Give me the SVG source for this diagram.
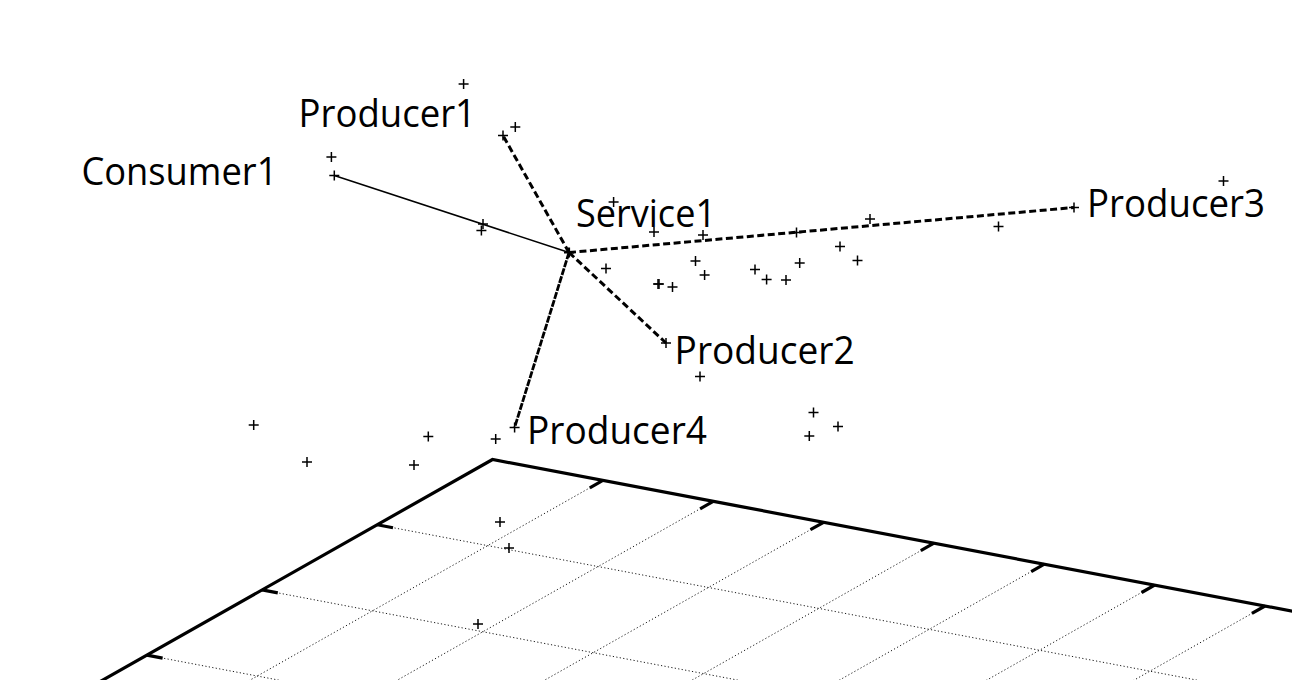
<svg xmlns="http://www.w3.org/2000/svg" width="1292" height="680" viewBox="0 0 1292 680">
<style>
.lbl{font-family:"Open Sans","Noto Sans","DejaVu Sans",sans-serif;font-size:39px;fill:#000}
.pt{stroke:#000;stroke-width:1.5;fill:none}
.grid{stroke:#000;stroke-width:0.9;stroke-dasharray:1.2 2.3;fill:none}
.edge{stroke:#000;stroke-width:3.2;fill:none;stroke-linecap:butt}
.tick{stroke:#000;stroke-width:3.2;fill:none}
.solid{stroke:#000;stroke-width:1.5;fill:none}
.dash{stroke:#000;stroke-width:3;stroke-dasharray:7 3.5;fill:none}
.dash4{stroke:#000;stroke-width:2.8;stroke-dasharray:7 1.3;fill:none}
</style>
<defs>
<path id="p" d="M-5 0H5M0 -5V5"/>
</defs>
<rect width="1292" height="680" fill="#fff"/>
<g id="base-grid">
<g class="grid">
<line x1="377.3" y1="524.7" x2="1260.2" y2="692.1"/>
<line x1="262.1" y1="589.9" x2="1145" y2="757.3"/>
<line x1="146.9" y1="655.1" x2="1029.8" y2="822.5"/>
<line x1="602.86" y1="480.43" x2="142.06" y2="741.23"/>
<line x1="713.22" y1="501.36" x2="252.42" y2="762.16"/>
<line x1="823.58" y1="522.29" x2="362.78" y2="783.09"/>
<line x1="933.94" y1="543.22" x2="473.14" y2="804.02"/>
<line x1="1044.3" y1="564.15" x2="583.5" y2="824.95"/>
<line x1="1154.66" y1="585.08" x2="693.86" y2="845.88"/>
<line x1="1265.02" y1="606.01" x2="804.22" y2="866.81"/>
</g>
<polyline class="edge" points="31.7,720.3 492.5,459.5 1375.4,626.9"/>
<g class="tick">
<line x1="377.3" y1="524.7" x2="393" y2="527.7"/>
<line x1="262.1" y1="589.9" x2="277.8" y2="592.9"/>
<line x1="146.9" y1="655.1" x2="162.6" y2="658.1"/>
<line x1="602.86" y1="480.43" x2="589.8" y2="487.8"/>
<line x1="713.22" y1="501.36" x2="700.1" y2="508.8"/>
<line x1="823.58" y1="522.29" x2="810.5" y2="529.7"/>
<line x1="933.94" y1="543.22" x2="920.8" y2="550.6"/>
<line x1="1044.3" y1="564.15" x2="1031.2" y2="571.6"/>
<line x1="1154.66" y1="585.08" x2="1141.6" y2="592.5"/>
<line x1="1265.02" y1="606.01" x2="1251.9" y2="613.4"/>
</g>
</g>
<g id="connectors">
<line class="solid" x1="334.3" y1="175.5" x2="569" y2="252.5"/>
<line class="dash" x1="569" y1="252.5" x2="503" y2="135.5"/>
<line class="dash" x1="569" y1="252.5" x2="1074" y2="207.5"/>
<line class="dash" x1="569" y1="252.5" x2="666" y2="343"/>
<line class="dash4" x1="569" y1="252.5" x2="514.6" y2="427.5"/>
</g>
<g id="points" class="pt">
<use href="#p" x="463.6" y="84"/>
<use href="#p" x="515.3" y="127"/>
<use href="#p" x="331.4" y="157"/>
<use href="#p" x="483" y="224"/>
<use href="#p" x="481.4" y="230.5"/>
<use href="#p" x="613.6" y="202"/>
<use href="#p" x="654" y="232"/>
<use href="#p" x="703" y="235"/>
<use href="#p" x="606" y="268.5"/>
<use href="#p" x="695.5" y="261"/>
<use href="#p" x="704.6" y="275"/>
<use href="#p" x="658" y="284"/>
<use href="#p" x="659" y="284"/>
<use href="#p" x="672.5" y="287"/>
<use href="#p" x="755" y="269.5"/>
<use href="#p" x="766.6" y="279.5"/>
<use href="#p" x="786" y="280"/>
<use href="#p" x="799.7" y="263"/>
<use href="#p" x="840" y="246.5"/>
<use href="#p" x="857.5" y="260.5"/>
<use href="#p" x="796.5" y="232.5"/>
<use href="#p" x="870" y="219"/>
<use href="#p" x="998.5" y="226.5"/>
<use href="#p" x="1223.5" y="181"/>
<use href="#p" x="700" y="376.5"/>
<use href="#p" x="813.5" y="412.5"/>
<use href="#p" x="838" y="426.5"/>
<use href="#p" x="809.3" y="436"/>
<use href="#p" x="253.7" y="425"/>
<use href="#p" x="428.3" y="436.5"/>
<use href="#p" x="495.7" y="439"/>
<use href="#p" x="307" y="462"/>
<use href="#p" x="414" y="465"/>
<use href="#p" x="500" y="522"/>
<use href="#p" x="509" y="548"/>
<use href="#p" x="478" y="624"/>
</g>
<g id="Consumer1">
<use class="pt" href="#p" x="334.3" y="175.5"/>
<text class="lbl" x="81.4" y="185" textLength="196" lengthAdjust="spacingAndGlyphs">Consumer1</text>
</g>
<g id="Producer1">
<use class="pt" href="#p" x="503" y="135.5"/>
<text class="lbl" x="298.5" y="127" textLength="177.5" lengthAdjust="spacingAndGlyphs">Producer1</text>
</g>
<g id="Service1">
<use class="pt" href="#p" x="569" y="252.5" style="stroke-width:2.2"/>
<text class="lbl" x="576" y="227" textLength="140" lengthAdjust="spacingAndGlyphs">Service1</text>
</g>
<g id="Producer3">
<use class="pt" href="#p" x="1074" y="207.5"/>
<text class="lbl" x="1087" y="217" textLength="178" lengthAdjust="spacingAndGlyphs">Producer3</text>
</g>
<g id="Producer2">
<use class="pt" href="#p" x="666" y="343"/>
<text class="lbl" x="674.6" y="363.5" textLength="180" lengthAdjust="spacingAndGlyphs">Producer2</text>
</g>
<g id="Producer4">
<use class="pt" href="#p" x="514.6" y="427.5"/>
<text class="lbl" x="527" y="443.5" textLength="180" lengthAdjust="spacingAndGlyphs">Producer4</text>
</g>
</svg>
